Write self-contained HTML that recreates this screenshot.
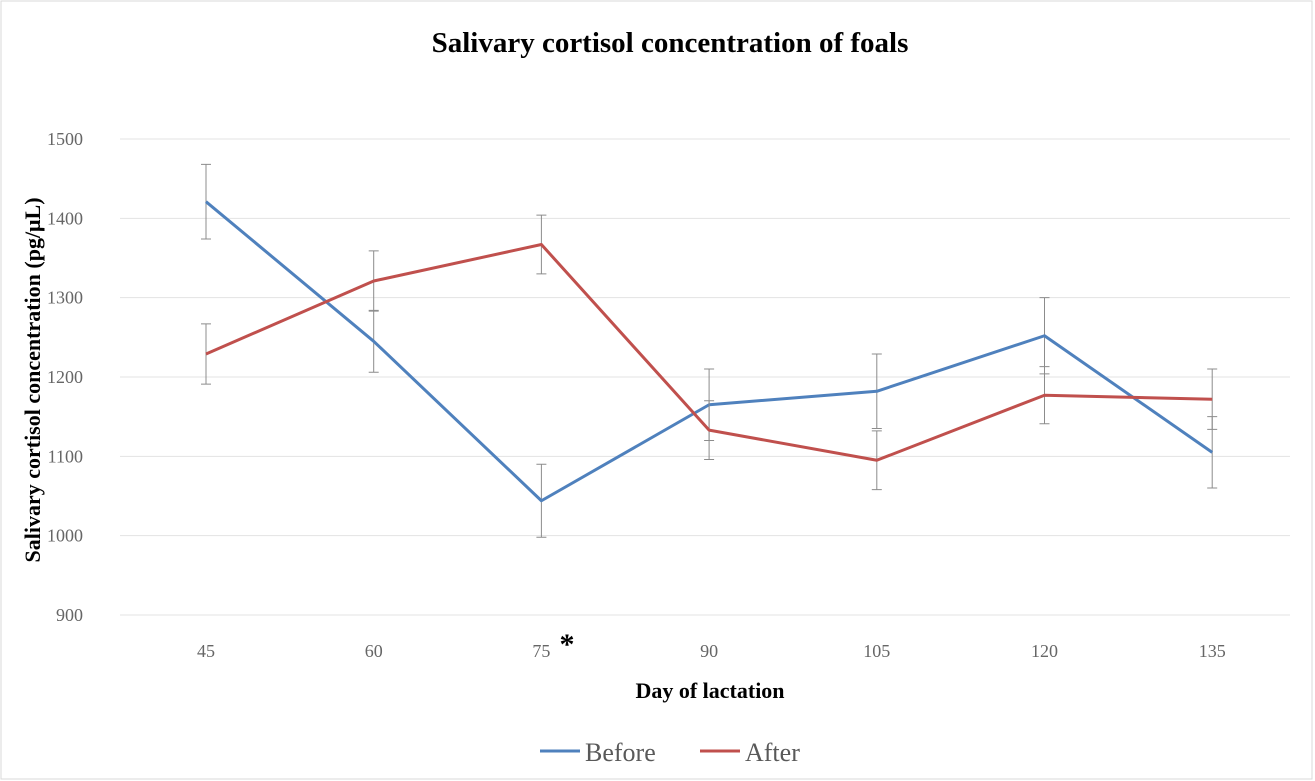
<!DOCTYPE html>
<html><head><meta charset="utf-8"><style>
body{margin:0;background:#fff;}
svg{display:block;font-family:"Liberation Serif",serif;}
</style></head><body>
<svg id="chart" width="1315" height="781">
<rect x="1" y="1" width="1311" height="778" fill="#fff" stroke="#d9d9d9"/>
<text x="670" y="52" text-anchor="middle" font-size="29" font-weight="bold" fill="#000">Salivary cortisol concentration of foals</text>
<g id="grid"></g><g id="series"></g>
<text x="40" y="380" transform="rotate(-90 40 380)" text-anchor="middle" font-size="22" font-weight="bold" fill="#000">Salivary cortisol concentration (pg/μL)</text>
<text x="710" y="698" text-anchor="middle" font-size="22" font-weight="bold" fill="#000">Day of lactation</text>
<text x="567" y="654" text-anchor="middle" font-size="30" font-weight="bold" fill="#000">*</text>
<g>
<line x1="540" y1="751" x2="580" y2="751" stroke="#4f81bd" stroke-width="3"/>
<text x="585" y="761" font-size="26" fill="#595959">Before</text>
<line x1="700" y1="751" x2="740" y2="751" stroke="#c0504d" stroke-width="3"/>
<text x="745" y="761" font-size="26" fill="#595959">After</text>
</g>
</svg>
<script>
const categories=["45","60","75","90","105","120","135"];
const beforeValues=[1421,1245,1044,1165,1182,1252,1105];
const beforeErr=[47,39,46,45,47,48,45];
const afterValues=[1229,1321,1367,1133,1095,1177,1172];
const afterErr=[38,38,37,37,37,36,38];
const yTicks=[900,1000,1100,1200,1300,1400,1500];
const NS="http://www.w3.org/2000/svg";
function yS(v){return 139+(1500-v)*0.7933;}
function xS(i){return 206+i*167.7;}
function mk(tag,attrs,parent){const e=document.createElementNS(NS,tag);for(const k in attrs)e.setAttribute(k,attrs[k]);parent.appendChild(e);return e;}
const grid=document.getElementById('grid'),ser=document.getElementById('series');
yTicks.forEach(t=>{
 const l=mk('line',{x1:120,x2:1290,y1:yS(t),y2:yS(t),stroke:'#e3e3e3','stroke-width':1},grid);
 
 
 const tx=mk('text',{x:83,y:yS(t)+6,'text-anchor':'end','font-size':18,fill:'#666'},grid);
 tx.textContent=t;
 
 
});
categories.forEach((c,i)=>{
 const tx=mk('text',{x:xS(i),y:657,'text-anchor':'middle','font-size':18,fill:'#666'},grid);
 tx.textContent=c;
 
 
});
function drawSeries(vals,errs,color,name){
 vals.forEach((v,i)=>{
  const x=xS(i);
  const g=mk('path',{d:`M${x},${yS(v+errs[i])}V${yS(v-errs[i])}M${x-5},${yS(v+errs[i])}H${x+5}M${x-5},${yS(v-errs[i])}H${x+5}`,stroke:'#8c8c8c','stroke-width':1,fill:'none'},ser);
  
  
 });
 const p=mk('polyline',{points:vals.map((v,i)=>xS(i)+','+yS(v)).join(' '),fill:'none',stroke:color,'stroke-width':3,'stroke-linejoin':'round'},ser);
 
 
}
drawSeries(beforeValues,beforeErr,'#4f81bd','before');
drawSeries(afterValues,afterErr,'#c0504d','after');
</script>
</body></html>
